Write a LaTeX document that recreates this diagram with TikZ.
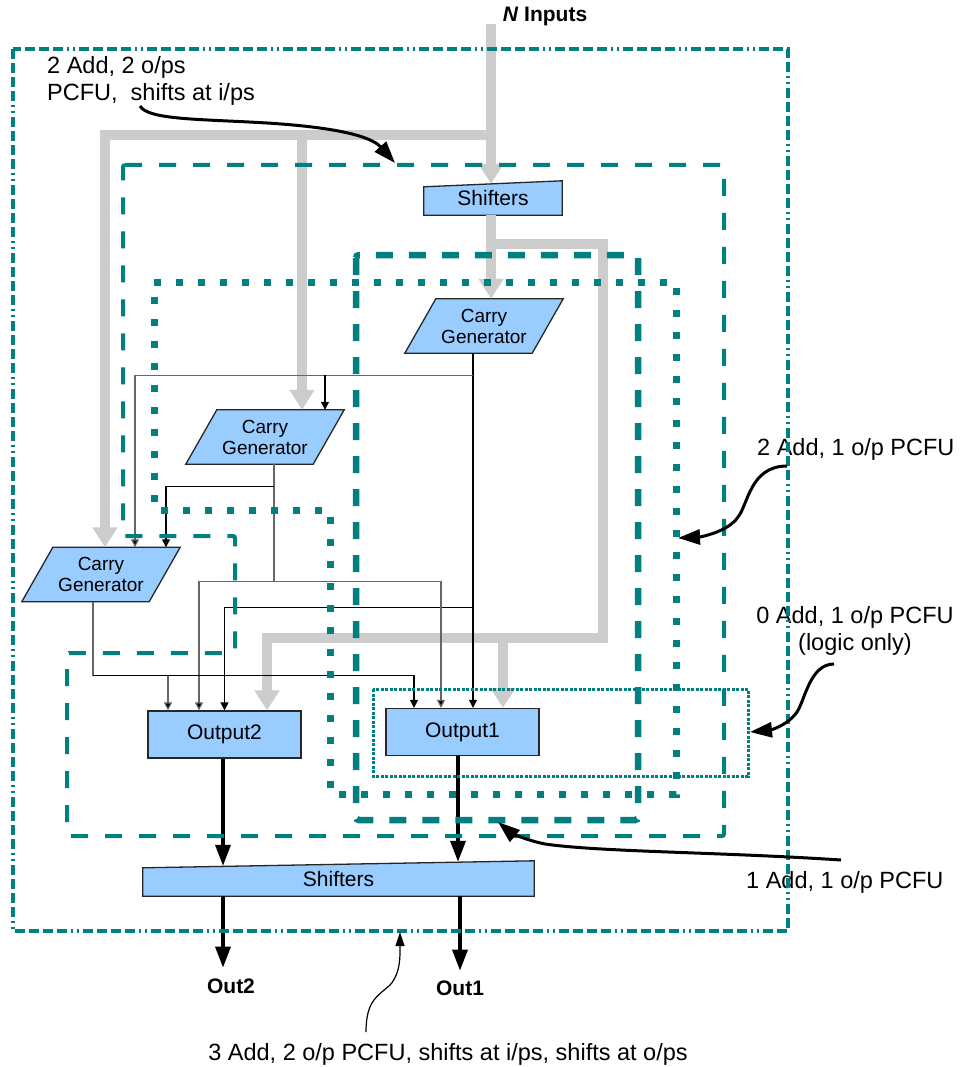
\documentclass[tikz,border=0pt]{standalone}
\usepackage{fontspec}
\setmainfont{Liberation Sans}
\usepackage{tikz}
\usetikzlibrary{arrows.meta,positioning,calc,backgrounds}
\definecolor{pcfuteal}{RGB}{0,128,128}
\definecolor{boxblue}{RGB}{153,204,255}
\definecolor{busgray}{RGB}{204,204,204}
\tikzset{
  cgbox/.style={rectangle,minimum width=127pt,minimum height=54pt,
                inner sep=0pt,align=center,font=\fontsize{19}{21}\selectfont},
  outbox/.style={rectangle,draw=black!85,line width=1.3pt,fill=boxblue,
                 minimum width=153pt,minimum height=47pt,inner sep=0pt,
                 font=\fontsize{21}{24}\selectfont},
  shiftbox/.style={rectangle,inner sep=0pt,font=\fontsize{21}{24}\selectfont},
  blockfill/.style={draw=black!85,line width=1.3pt,fill=boxblue},
  note/.style={inner sep=0pt,font=\fontsize{23.5}{27}\selectfont},
  outlbl/.style={inner sep=0pt,anchor=base,font=\bfseries\fontsize{21}{24}\selectfont},
}

\begin{document}
\begin{tikzpicture}[
  x=1pt,y=-1pt,
  bus/.style={line width=10.5pt,busgray,-{Triangle[length=20pt,width=24pt]}},
  wire/.style={line width=1.2pt,black,-{Triangle[length=8pt,width=8pt]}},
  wiregray/.style={line width=1.2pt,black!60,-{Triangle[length=8pt,width=8pt,fill=black]}},
  outflow/.style={line width=3.5pt,black,-{Triangle[length=21pt,width=15pt]}},
  callout/.style={line width=3pt,black,-{Triangle[length=22pt,width=15pt]}},
  thincallout/.style={line width=1.2pt,black,-{Triangle[length=14pt,width=9pt]}},
  regionall/.style={pcfuteal,line width=3.5pt,
    dash pattern=on 10pt off 4pt on 10pt off 4pt on 10pt off 4pt on 10pt off 4pt
                 on 2pt off 4pt on 2pt off 4pt},
  regiontwotwo/.style={pcfuteal,line width=4pt,dash pattern=on 17pt off 17pt,
                       rounded corners=2pt},
  regiontwoone/.style={pcfuteal,line width=7pt,dash pattern=on 7pt off 15pt},
  regiononeone/.style={pcfuteal,line width=6.5pt,dash pattern=on 17pt off 16pt,
                       rounded corners=3pt},
  regionzero/.style={pcfuteal,line width=3pt,dash pattern=on 3pt off 1.5pt},
]
  \useasboundingbox (0,0) rectangle (959,1067);

  \node[cgbox] (CGone) at (484,326) {Carry\\Generator};
  \node[cgbox] (CGtwo) at (265,437) {Carry\\Generator};
  \node[cgbox] (CGthree) at (101,574.5) {Carry\\Generator};
  \node[outbox] (Outtwo) at (224.5,734.5) {Output2};
  \node[outbox] (Outone) at (462.5,732) {Output1};
  \node[shiftbox,minimum width=138pt,minimum height=34pt] (shIn) at (493,198) {Shifters};
  \node[shiftbox,minimum width=391pt,minimum height=35pt] (shOut) at (338.5,878.5) {Shifters};

  \node[font=\bfseries\fontsize{21}{24}\selectfont,inner sep=0pt,anchor=base]
    (inLbl) at (545,22) {\textit{N} Inputs};
  \node[outlbl] (outTwoLbl) at (231,993) {Out2};
  \node[outlbl] (outOneLbl) at (460,995) {Out1};

  \node[note,anchor=west,align=left] (noteTwoTwo) at (47,81)
    {2 Add, 2 o/ps\\PCFU,\ \ shifts at i/ps};
  \node[note,anchor=base west] (noteTwoOne) at (757,455) {2 Add, 1 o/p PCFU};
  \node[note,align=center] (noteZero) at (855,631) {0 Add, 1 o/p PCFU\\(logic only)};
  \node[note,anchor=base west] (noteOne) at (746,888) {1 Add, 1 o/p PCFU};
  \node[note,anchor=base] (noteThree) at (448,1060)
    {3 Add, 2 o/p PCFU, shifts at i/ps, shifts at o/ps};

  \begin{scope}[on background layer]
    \foreach \cg in {CGone,CGtwo,CGthree}
      \filldraw[blockfill] ([xshift=15.5pt]\cg.north west) -- ([xshift=15.5pt]\cg.north east)
        -- ([xshift=-15.5pt]\cg.south east) -- ([xshift=-15.5pt]\cg.south west) -- cycle;
    \filldraw[blockfill] ([yshift=-6pt]shIn.north west) -- (shIn.north east)
      -- (shIn.south east) -- (shIn.south west) -- cycle;
    \filldraw[blockfill] ([yshift=-7pt]shOut.north west) -- (shOut.north east)
      -- (shOut.south east) -- (shOut.south west) -- cycle;
  \end{scope}

  \coordinate (inTop) at (491,24);
  \coordinate (busSplit) at (491,135);
  \draw[bus] (inTop) -- ($(shIn.north)+(-2,3)$);
  \draw[bus] (busSplit) -| ([xshift=4pt]CGthree.north);
  \draw[bus] ($(busSplit -| CGtwo.north)+(37,0)$) -- ([xshift=37pt]CGtwo.north);
  \draw[bus] ([xshift=-2pt]shIn.south) -- ([xshift=7pt]CGone.north);
  \coordinate (busFork) at ($(shIn.south)+(-2,29)$);
  \draw[bus] (busFork) -- ++(112,0) -- ++(0,394) -| ([xshift=42.5pt]Outtwo.north);
  \draw[bus] ($(busFork)+(12,394)$) -- ([xshift=40.5pt]Outone.north);

  \draw[wire] ([xshift=-11pt]CGone.south) -- ([xshift=10.5pt]Outone.north);
  \coordinate (jOne) at ($(CGone.south)+(-11,22)$);
  \coordinate (jTwo) at ($(CGone.south)+(-11,254)$);
  \draw[wiregray] (jOne) -| ([xshift=34pt]CGthree.north);
  \draw[wire] ($(jOne -| CGtwo.north)+(60,0)$) -- ([xshift=60pt]CGtwo.north);
  \draw[wire] (jTwo) -| (Outtwo.north);

  \draw[wiregray,-] ([xshift=9pt]CGtwo.south) -- ++(0,117) coordinate (jFour);
  \coordinate (jThree) at ($(CGtwo.south)+(9,22)$);
  \draw[wire] (jThree) -| ([xshift=65pt]CGthree.north);
  \draw[wiregray] (jFour) -| ([xshift=-25.5pt]Outtwo.north);
  \draw[wiregray] (jFour) -| ([xshift=-21.5pt]Outone.north);

  \draw[wiregray,-] ([xshift=-8pt]CGthree.south) -- ++(0,74) coordinate (jFive);
  \draw[wire] (jFive) -| ([xshift=-48.5pt]Outone.north);
  \draw[wiregray] ($(jFive -| Outtwo.north)+(-56.5,0)$) -- ([xshift=-56.5pt]Outtwo.north);

  \draw[outflow] ([xshift=-1.5pt]Outtwo.south) -- ($(Outtwo.south |- shOut.north)+(-1.5,5)$);
  \draw[outflow] ([xshift=-4.5pt]Outone.south) -- ($(Outone.south |- shOut.north)+(-4.5,1)$);
  \draw[outflow] ($(shOut.south -| Outtwo.south)+(-1.5,0)$)
    -- ($(outTwoLbl.north -| Outtwo.south)+(-1.5,-10.5)$);
  \draw[outflow] ($(shOut.south -| Outone.south)+(-2.5,0)$)
    -- ($(outOneLbl.north -| Outone.south)+(-2.5,-9.5)$);

  \draw[regionall] (13,49) rectangle (788,931);
  \draw[regiontwotwo] (123,165) -- (724,165) -- (724,836) -- (67,836) -- (67,653)
    -- (235,653) -- (235,536) -- (123,536) -- cycle;
  \draw[regiontwoone] (154,282) -- (676,282) -- (676,794) -- (330,794)
    -- (330,510) -- (154,510) -- cycle;
  \draw[regiononeone] (356,255) rectangle (638,820);
  \draw[regionzero] (373,689) rectangle (748,776);

  \coordinate (cTwoTwoS) at (140,106);
  \coordinate (cTwoTwoE) at (395,163);
  \draw[callout] (cTwoTwoS) .. controls (148,120) and (200,119) .. (267,123)
    .. controls (330,127) and (370,135) .. (cTwoTwoE);
  \coordinate (cTwoOneS) at (787,466);
  \coordinate (cTwoOneE) at (678,538);
  \draw[callout] (cTwoOneS) .. controls (750,466) and (748,505) .. (738,517)
    .. controls (728,532) and (700,537) .. (cTwoOneE);
  \coordinate (cZeroS) at (834,664);
  \coordinate (cZeroE) at (750,732);
  \draw[callout] (cZeroS) .. controls (810,664) and (805,700) .. (797,712)
    .. controls (787,726) and (770,730) .. (cZeroE);
  \coordinate (cOneS) at (841,860);
  \coordinate (cOneE) at (498,822);
  \draw[callout] (cOneS) .. controls (720,852) and (600,852) .. (545,844)
    .. controls (525,840) and (510,832) .. (cOneE);
  \coordinate (cThreeS) at (366,1032);
  \coordinate (cThreeE) at (400,932);
  \draw[thincallout] (cThreeS) .. controls (366,1000) and (378,996) .. (390,985)
    .. controls (401,973) and (400,955) .. (cThreeE);
\end{tikzpicture}
\end{document}
